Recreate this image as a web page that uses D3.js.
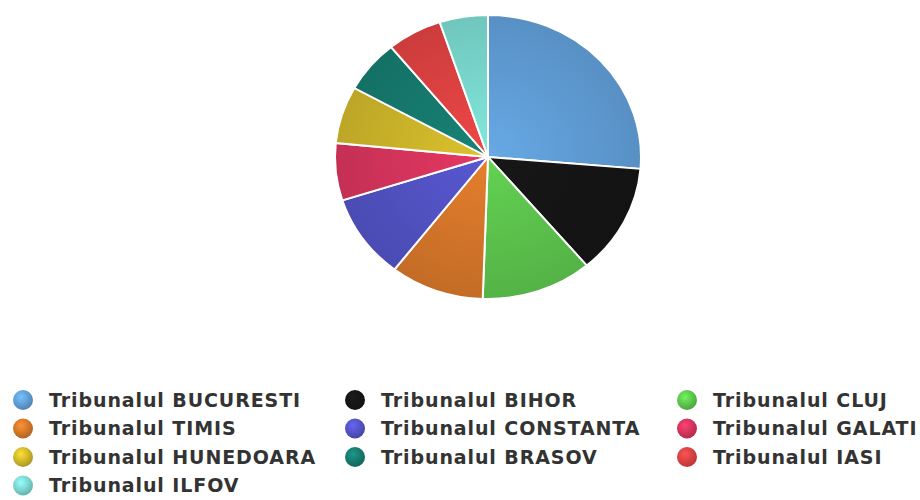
<!DOCTYPE html>
<html>
<head>
<meta charset="utf-8">
<script src="https://cdn.jsdelivr.net/npm/d3@7"></script>
<style>
    body { margin: 0; background: #fff; }
    svg { display: block; }
</style>
</head>
<body>
<svg id="chart"></svg>
<script>
// Chart data
const courts = [
    "Tribunalul BUCURESTI", "Tribunalul BIHOR", "Tribunalul CLUJ",
    "Tribunalul TIMIS", "Tribunalul CONSTANTA", "Tribunalul GALATI",
    "Tribunalul HUNEDOARA", "Tribunalul BRASOV", "Tribunalul IASI",
    "Tribunalul ILFOV"
];
const cases = [263, 125, 117, 99, 96, 65, 65, 60, 58, 51];
const colors = [
    "#609dd6", "#151515", "#5cc44c", "#d5762a", "#5252c4",
    "#d6345c", "#cdb62a", "#167a6e", "#df4242", "#79d9ce"
];

const frameWidth = 920;
const frameHeight = 500;
const svg = d3.select("#chart")
    .attr("width", frameWidth)
    .attr("height", frameHeight);
const defs = svg.append("defs");

const radius = 153;
const squash = 142 / 153; // the reference pie is slightly flattened

// Radial shading for each slice: lighter at the centre, darker at the rim
colors.forEach(function (c, i) {
    let g = defs.append("radialGradient")
        .attr("id", "slice" + i)
        .attr("gradientUnits", "userSpaceOnUse")
        .attr("cx", 0).attr("cy", 0).attr("r", radius);
    g.append("stop").attr("offset", "0%").attr("stop-color", d3.color(c).brighter(0.2));
    g.append("stop").attr("offset", "100%").attr("stop-color", d3.color(c).darker(0.25));

    // Sphere look for the legend markers
    let m = defs.append("radialGradient")
        .attr("id", "marker" + i)
        .attr("cx", "40%").attr("cy", "35%").attr("r", "65%");
    m.append("stop").attr("offset", "0%").attr("stop-color", d3.color(c).brighter(0.6));
    m.append("stop").attr("offset", "100%").attr("stop-color", d3.color(c).darker(0.5));
});

const pie = d3.pie().sort(null).value(d => d);
const arc = d3.arc().innerRadius(0).outerRadius(radius);

const pieGroup = svg.append("g")
    .attr("transform", `translate(488,157) scale(1,${squash})`);

pieGroup.selectAll("path")
    .data(pie(cases))
    .join("path")
    .attr("d", arc)
    .attr("fill", (d, i) => `url(#slice${i})`)
    .attr("stroke", "#fff")
    .attr("stroke-width", 2)
    .attr("stroke-linejoin", "round");

// Legend: three columns, filled row by row
const colX = d3.scaleOrdinal().domain([0, 1, 2]).range([23, 355, 687]);
const rowY = d3.scaleLinear().domain([0, 1]).range([400, 428.5]);

const legend = svg.append("g").selectAll("g")
    .data(courts)
    .join("g")
    .attr("transform", (d, i) => `translate(${colX(i % 3)},${rowY(Math.floor(i / 3))})`);

legend.append("circle")
    .attr("r", 10)
    .attr("fill", (d, i) => `url(#marker${i})`);

legend.append("text")
    .attr("x", 26)
    .attr("dy", "0.36em")
    .attr("font-family", "DejaVu Sans, Verdana, sans-serif")
    .attr("font-weight", "bold")
    .attr("font-size", 19)
    .attr("letter-spacing", 0.9)
    .attr("fill", "#333")
    .text(d => d);
</script>
</body>
</html>
